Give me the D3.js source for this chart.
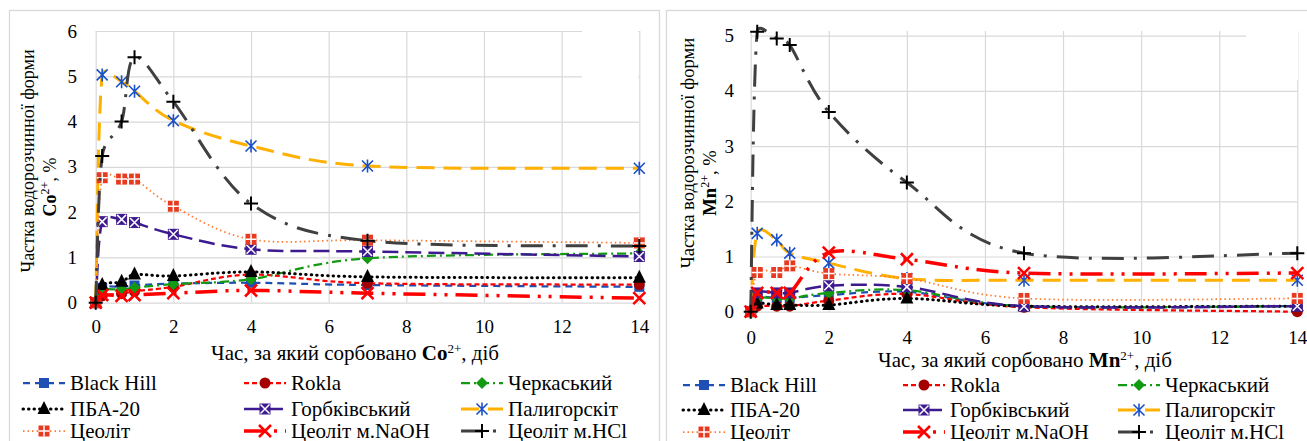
<!DOCTYPE html>
<html>
<head>
<meta charset="utf-8">
<script src="https://cdn.jsdelivr.net/npm/d3@7"></script>
<style>
    body { margin: 0; background: #fff; }
</style>
</head>
<body>
<svg id="chart" width="1307" height="441"></svg>
<script>
// time points, days
const days = [0, 0.167, 0.667, 1, 2, 4, 7, 14];

const seriesNames = ["Black Hill", "Rokla", "Черкаський", "ПБА-20", "Горбківський",
    "Палигорскіт", "Цеоліт", "Цеоліт м.NaOH", "Цеоліт м.HCl"];

// Co2+ share, % (same order as seriesNames)
const coShares = [
    [0, 0.33, 0.35, 0.38, 0.42, 0.44, 0.39, 0.35],
    [0, 0.15, 0.20, 0.25, 0.35, 0.62, 0.43, 0.40],
    [0, 0.28, 0.29, 0.33, 0.41, 0.52, 0.98, 1.09],
    [0, 0.39, 0.46, 0.62, 0.59, 0.68, 0.57, 0.55],
    [0, 1.79, 1.84, 1.77, 1.51, 1.18, 1.13, 1.02],
    [0, 5.03, 4.88, 4.67, 4.02, 3.46, 3.02, 2.97],
    [0, 2.76, 2.73, 2.73, 2.13, 1.40, 1.38, 1.32],
    [0, 0.17, 0.15, 0.17, 0.21, 0.27, 0.21, 0.10],
    [0, 3.24, 4.00, 5.42, 4.44, 2.19, 1.37, 1.25]
];

// Mn2+ share, %
const mnShares = [
    [0, 0.25, 0.25, 0.25, 0.30, 0.36, 0.10, 0.10],
    [0, 0.10, 0.10, 0.10, 0.20, 0.32, 0.08, 0.00],
    [0, 0.24, 0.24, 0.24, 0.34, 0.39, 0.10, 0.10],
    [0, 0.15, 0.12, 0.12, 0.12, 0.24, 0.10, 0.10],
    [0, 0.34, 0.34, 0.34, 0.47, 0.45, 0.10, 0.10],
    [0, 1.42, 1.30, 1.06, 0.88, 0.60, 0.57, 0.57],
    [0, 0.71, 0.71, 0.83, 0.69, 0.60, 0.24, 0.24],
    [0, 0.34, 0.34, 0.34, 1.07, 0.95, 0.70, 0.70],
    [0, 5.07, 4.95, 4.83, 3.62, 2.34, 1.06, 1.06]
];

const dayTicks = [0, 2, 4, 6, 8, 10, 12, 14];
const coTicks = [0, 1, 2, 3, 4, 5, 6];
const mnTicks = [0, 1, 2, 3, 4, 5];

// line / marker look per series
const styles = [
    { color: "#1f4fb4", width: 2.25, dash: "7,5", marker: "square", mcolor: "#1f4fb4" },
    { color: "#ff0000", width: 2.25, dash: "5,3", marker: "circle", mcolor: "#a50000" },
    { color: "#139a13", width: 2.25, dash: "9,4,2,4", marker: "diamond", mcolor: "#139a13" },
    { color: "#000000", width: 3, dash: "0.5,5", cap: "round", marker: "triangle", mcolor: "#000" },
    { color: "#3d1a8f", width: 2.5, dash: "16,7", marker: "xbox", mcolor: "#3d1a8f" },
    { color: "#ffb000", width: 3, dash: "18,9", marker: "asterisk", mcolor: "#1a50c8" },
    { color: "#ff7a30", width: 1.75, dash: "1.5,3", marker: "plusbox", mcolor: "#e83a20" },
    { color: "#ff0000", width: 3.5, dash: "22,8,3,8,3,8", marker: "x", mcolor: "#ff0000" },
    { color: "#404040", width: 3, dash: "22,10,3,10", marker: "plus", mcolor: "#000" }
];

const FONT = '"Liberation Serif", "Times New Roman", serif';
const svg = d3.select("#chart").style("font-family", FONT);

function drawMarker(g, type, color, cx, cy) {
    const m = g.append("g").attr("transform", `translate(${cx},${cy})`);
    if (type === "square") {
        m.append("rect").attr("x", -5).attr("y", -5).attr("width", 10).attr("height", 10).attr("fill", color);
    } else if (type === "circle") {
        m.append("circle").attr("r", 5.5).attr("fill", color);
    } else if (type === "diamond") {
        m.append("path").attr("d", "M0,-6L6,0L0,6L-6,0Z").attr("fill", color);
    } else if (type === "triangle") {
        m.append("path").attr("d", "M0,-8L6.5,5L-6.5,5Z").attr("fill", color);
    } else if (type === "xbox") {
        m.append("rect").attr("x", -5.5).attr("y", -5.5).attr("width", 11).attr("height", 11).attr("fill", color);
        m.append("path").attr("d", "M-4.5,-4.5L4.5,4.5M-4.5,4.5L4.5,-4.5").attr("stroke", "#fff").attr("stroke-width", 1.5);
    } else if (type === "asterisk") {
        m.append("path").attr("d", "M-5.5,-5.5L5.5,5.5M-5.5,5.5L5.5,-5.5M0,-6.5L0,6.5")
            .attr("stroke", color).attr("stroke-width", 1.6);
    } else if (type === "plusbox") {
        m.append("rect").attr("x", -5.5).attr("y", -5.5).attr("width", 11).attr("height", 11).attr("fill", color);
        m.append("path").attr("d", "M0,-5.5L0,5.5M-5.5,0L5.5,0").attr("stroke", "#fff").attr("stroke-width", 1.5);
    } else if (type === "x") {
        m.append("path").attr("d", "M-6,-6L6,6M-6,6L6,-6").attr("stroke", color).attr("stroke-width", 2.6);
    } else if (type === "plus") {
        m.append("path").attr("d", "M0,-7L0,7M-7,0L7,0").attr("stroke", color).attr("stroke-width", 2);
    }
}

// Excel-style smoothing: Bezier with 1/6 tangents, capped at half the segment
function smoothPath(pts) {
    const p = d3.path();
    const n = pts.length;
    const dist = (a, b) => Math.hypot(b[0] - a[0], b[1] - a[1]);
    p.moveTo(pts[0][0], pts[0][1]);
    for (let i = 0; i < n - 1; i++) {
        const p0 = pts[Math.max(i - 1, 0)], p1 = pts[i], p2 = pts[i + 1], p3 = pts[Math.min(i + 2, n - 1)];
        const seg = dist(p1, p2);
        let f1 = 1 / 6, f2 = 1 / 6;
        const d02 = dist(p0, p2), d13 = dist(p1, p3);
        if (d02 / 6 > seg / 2) f1 = (seg / 2) / d02;
        if (d13 / 6 > seg / 2) f2 = (seg / 2) / d13;
        const c1 = [p1[0] + (p2[0] - p0[0]) * f1, p1[1] + (p2[1] - p0[1]) * f1];
        const c2 = [p2[0] - (p3[0] - p1[0]) * f2, p2[1] - (p3[1] - p1[1]) * f2];
        p.bezierCurveTo(c1[0], c1[1], c2[0], c2[1], p2[0], p2[1]);
    }
    return p.toString();
}

function styleText(sel, size) {
    sel.style("font-family", FONT).style("font-size", size + "px").attr("fill", "#000");
}

function drawChart(cfg) {
    const x = d3.scaleLinear().domain([0, 14]).range([cfg.left, cfg.right]);
    const y = d3.scaleLinear().domain([0, cfg.yMax]).range([cfg.bottom, cfg.yTopVal]);
    const g = svg.append("g");

    // frame
    g.append("rect")
        .attr("x", cfg.frame[0] + 0.5).attr("y", cfg.frame[1] + 0.5)
        .attr("width", cfg.frame[2] - cfg.frame[0]).attr("height", 460)
        .attr("fill", "none").attr("stroke", "#d9d9d9").attr("stroke-width", 1.3);

    // grid
    g.append("g").attr("transform", `translate(0,${cfg.bottom})`)
        .call(d3.axisBottom(x).tickValues(dayTicks).tickSize(-(cfg.bottom - cfg.gridTop)).tickFormat(""))
        .call(a => a.select(".domain").remove())
        .call(a => a.selectAll("line").attr("stroke", "#d9d9d9").attr("stroke-width", 1.2));
    g.append("g").attr("transform", `translate(${cfg.left},0)`)
        .call(d3.axisLeft(y).tickValues(cfg.yTicks).tickSize(-(cfg.right - cfg.left)).tickFormat(""))
        .call(a => a.select(".domain").remove())
        .call(a => a.selectAll("line").attr("stroke", "#d9d9d9").attr("stroke-width", 1.2));

    // blank patch in the upper right corner, as in the source image
    g.append("rect").attr("x", cfg.patch[0]).attr("y", cfg.patch[1])
        .attr("width", cfg.patch[2]).attr("height", cfg.patch[3]).attr("fill", "#fff");

    // tick labels
    g.append("g").attr("transform", `translate(0,${cfg.bottom})`)
        .call(d3.axisBottom(x).tickValues(dayTicks).tickSize(0).tickPadding(cfg.xPad).tickFormat(d3.format("d")))
        .call(a => a.select(".domain").remove())
        .call(a => styleText(a.selectAll("text"), 19));
    g.append("g").attr("transform", `translate(${cfg.left},0)`)
        .call(d3.axisLeft(y).tickValues(cfg.yTicks).tickSize(0).tickPadding(cfg.yPad).tickFormat(d3.format("d")))
        .call(a => a.select(".domain").remove())
        .call(a => styleText(a.selectAll("text"), 19));

    // series
    cfg.values.forEach((vals, s) => {
        const st = styles[s];
        const pts = vals.map((v, i) => [x(days[i]), y(v)]);
        g.append("path").attr("d", smoothPath(pts))
            .attr("fill", "none").attr("stroke", st.color).attr("stroke-width", st.width)
            .attr("stroke-dasharray", st.dash).attr("stroke-linecap", st.cap || "butt");
        pts.forEach(pt => drawMarker(g, st.marker, st.mcolor, pt[0], pt[1]));
    });

    // x title
    const xt = g.append("text").attr("x", cfg.xTitle[0]).attr("y", cfg.xTitle[1]).attr("text-anchor", "middle");
    styleText(xt, 21);
    xt.append("tspan").text("Час, за який сорбовано ");
    xt.append("tspan").attr("font-weight", "bold").text(cfg.ion);
    xt.append("tspan").attr("dy", -7).style("font-size", "13px").text("2+");
    xt.append("tspan").attr("dy", 7).text(", діб");

    // y title
    const yt1 = g.append("text").attr("transform", `translate(${cfg.yTitle1[0]},${cfg.yTitle1[1]}) rotate(-90)`)
        .attr("text-anchor", "middle").text("Частка водорозчинної форми");
    styleText(yt1, cfg.yTitleSize);
    const yt = g.append("text").attr("transform", `translate(${cfg.yTitle2[0]},${cfg.yTitle2[1]}) rotate(-90)`)
        .attr("text-anchor", "middle");
    styleText(yt, cfg.yTitleSize);
    yt.append("tspan").attr("font-weight", "bold").text(cfg.ion);
    yt.append("tspan").attr("dy", -7).style("font-size", "12px").text("2+");
    yt.append("tspan").attr("dy", 7).text(", %");

    // legend
    seriesNames.forEach((name, s) => {
        const st = styles[s];
        const col = s % 3, row = Math.floor(s / 3);
        const lx = cfg.legCols[col], ly = cfg.legRows[row];
        g.append("line").attr("x1", lx).attr("x2", lx + 42).attr("y1", ly).attr("y2", ly)
            .attr("stroke", st.color).attr("stroke-width", st.width)
            .attr("stroke-dasharray", st.dash).attr("stroke-linecap", st.cap || "butt");
        drawMarker(g, st.marker, st.mcolor, lx + 21, ly);
        const t = g.append("text").attr("x", lx + 47).attr("y", ly + 7).text(name);
        styleText(t, 21);
    });
}

drawChart({
    ion: "Co", values: coShares, yMax: 6, yTicks: coTicks,
    left: 95.7, right: 639.3, bottom: 302.7, yTopVal: 31, gridTop: 31,
    frame: [9, 10, 659], patch: [582, 26, 56, 76],
    xPad: 16.5, yPad: 18.7,
    xTitle: [355, 360], yTitle1: [34, 161], yTitle2: [56, 187], yTitleSize: 18,
    legCols: [23, 244, 461], legRows: [383, 409, 431]
});

drawChart({
    ion: "Mn", values: mnShares, yMax: 5, yTicks: mnTicks,
    left: 750.7, right: 1297.3, bottom: 311.7, yTopVal: 35.7, gridTop: 31,
    frame: [666, 10, 1320], patch: [1246, 26, 52, 54],
    xPad: 18.5, yPad: 16.7,
    xTitle: [1025, 367], yTitle1: [694, 153], yTitle2: [716, 183], yTitleSize: 18.6,
    legCols: [683, 903, 1118], legRows: [385, 410, 432]
});
</script>
</body>
</html>
